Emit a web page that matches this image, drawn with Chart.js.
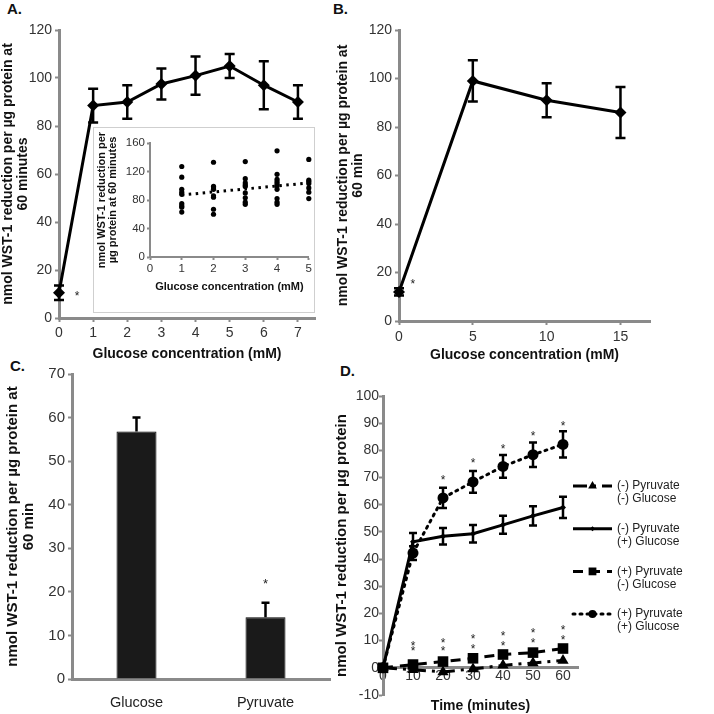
<!DOCTYPE html>
<html>
<head>
<meta charset="utf-8">
<title>WST-1 reduction</title>
<script src="https://cdn.jsdelivr.net/npm/chart.js@4.4.0/dist/chart.umd.min.js"></script>
<style>
  body { margin: 0; background: #fff; }
  #page { position: relative; width: 714px; height: 714px; overflow: hidden; font-family: "Liberation Sans", Arial, sans-serif; }
  canvas { position: absolute; }
  .tag { position: absolute; font-weight: bold; font-size: 15px; line-height: 15px; color: #111; }
  #insetBox { position: absolute; left: 93px; top: 127px; width: 222px; height: 186px; border: 1px solid #cfcfcf; background: #fff; box-sizing: border-box; }
  #insetBox canvas { left: 0; top: 0; }
</style>
</head>
<body>
<div id="page">
  <div class="tag" style="left:7px;top:1px">A.</div>
  <div class="tag" style="left:333px;top:1px">B.</div>
  <div class="tag" style="left:10px;top:358px">C.</div>
  <div class="tag" style="left:340px;top:363px">D.</div>
  <canvas id="chartA" width="330" height="362" style="left:0;top:0"></canvas>
  <div id="insetBox"><canvas id="chartInset" width="220" height="184"></canvas></div>
  <canvas id="chartB" width="340" height="362" style="left:333px;top:0"></canvas>
  <canvas id="chartC" width="335" height="354" style="left:0;top:360px"></canvas>
  <canvas id="chartD" width="381" height="354" style="left:333px;top:360px"></canvas>
</div>
<script>
// Panel A: glucose dose response
const glucoseA = [0, 1, 2, 3, 4, 5, 6, 7];
const wstA = [10.5, 88.5, 90, 97.5, 101, 105, 97, 90];
const errA = [3, 7, 7, 6.5, 8, 5, 10, 7];
const tickXA = [0, 1, 2, 3, 4, 5, 6, 7];
const starAX = [0.53];
const starAY = [10.4];

// Panel A inset: individual measurements
const insetConc = [1, 2, 3, 4, 5];
const insetAt1 = [127, 112, 95, 91, 88, 75, 72, 70, 63];
const insetAt2 = [133, 99, 97, 95, 86, 84, 67, 60];
const insetAt3 = [134, 110, 104, 101, 99, 90, 83, 77, 74];
const insetAt4 = [149, 116, 109, 106, 103, 100, 95, 82, 77, 74];
const insetAt5 = [137, 108, 106, 103, 97, 91, 82];
const trendX = [1, 5];
const trendY = [87, 104];

// Panel B
const glucoseB = [0, 5, 10, 15];
const wstB = [12, 99, 91, 86];
const errB = [1.5, 8.5, 7, 10.5];
const tickXB = [0, 5, 10, 15];
const starBX = [0.94];
const starBY = [16.4];

// Panel C
const substrateC = ['Glucose', 'Pyruvate'];
const wstC = [56.8, 14.2];
const errC = [3.2, 3.3];
const starCX = [1];
const starCY = [22.7];

// Panel D: time course
const timeD = [0, 10, 20, 30, 40, 50, 60];
const noPyrNoGlc = [0, -0.7, -1.5, -0.4, 0.9, 1.8, 2.7];
const noPyrGlc = [0, 46.4, 48.4, 49.3, 52.6, 55.9, 59];
const noPyrGlcErr = [0, 3.2, 3, 3.2, 3.3, 3.5, 3.9];
const pyrNoGlc = [0, 1.2, 2.3, 3.5, 4.9, 5.6, 7.1];
const pyrGlc = [0, 42.2, 62.5, 68.4, 74.1, 78.4, 82.2];
const pyrGlcErr = [0, 2.5, 3.7, 4, 4.2, 4.5, 4.8];
const pyruvateTags = ['(-) Pyruvate', '(-) Pyruvate', '(+) Pyruvate', '(+) Pyruvate'];
const glucoseTags = ['(-) Glucose', '(+) Glucose', '(-) Glucose', '(+) Glucose'];
const starTopX = [20, 30, 40, 50, 60];
const starTopY = [70, 76.5, 81.7, 86.3, 90];
const starLowX = [10, 20, 30, 40, 50, 60, 10, 20, 30, 40, 50, 60];
const starLowY = [9, 10.3, 11.5, 12.7, 13.7, 15, 7.3, 7.4, 8, 9, 10.3, 11.3];

Chart.defaults.font.family = '"Liberation Sans", Arial, sans-serif';
Chart.defaults.color = '#333';
Chart.defaults.animation = false;
Chart.defaults.plugins.legend.display = false;
Chart.defaults.plugins.tooltip.enabled = false;

const AXIS = '#8a8a8a';

function frame(tickLen, width) {
  return {
    border: { color: AXIS, width: width },
    grid: { drawOnChartArea: false, drawTicks: tickLen > 0, tickLength: tickLen, tickColor: AXIS, tickWidth: 2 },
  };
}

function bold(size) {
  return { size: size, weight: 'bold', lineHeight: 1.05 };
}

function xy(xs, ys) {
  return xs.map((x, i) => ({ x: x, y: ys[i] }));
}

// draws +/- error bars for datasets that carry an `errors` array
const errorBars = {
  id: 'errorBars',
  afterDatasetsDraw(chart) {
    const ctx = chart.ctx;
    chart.data.datasets.forEach((ds, i) => {
      if (!ds.errors) return;
      const meta = chart.getDatasetMeta(i);
      const yScale = chart.scales[meta.yAxisID];
      const cap = ds.capHalf || 4;
      ctx.save();
      ctx.strokeStyle = '#000';
      ctx.lineWidth = ds.errorWidth || 2.5;
      meta.data.forEach((el, j) => {
        const e = ds.errors[j];
        if (!e) return;
        const raw = ds.data[j];
        const v = typeof raw === 'object' ? raw.y : raw;
        const top = yScale.getPixelForValue(v + e);
        const bot = yScale.getPixelForValue(ds.upperOnly ? v : v - e);
        ctx.beginPath();
        ctx.moveTo(el.x, top);
        ctx.lineTo(el.x, bot);
        ctx.moveTo(el.x - cap, top);
        ctx.lineTo(el.x + cap, top);
        if (!ds.upperOnly) {
          ctx.moveTo(el.x - cap, bot);
          ctx.lineTo(el.x + cap, bot);
        }
        ctx.stroke();
      });
      ctx.restore();
    });
  }
};

// significance asterisks placed in data coordinates
const stars = {
  id: 'stars',
  afterDatasetsDraw(chart, args, opts) {
    if (!opts.x) return;
    const ctx = chart.ctx;
    const size = opts.size || 12;
    ctx.save();
    ctx.fillStyle = '#222';
    ctx.font = size + 'px "Liberation Sans", Arial, sans-serif';
    ctx.textAlign = 'center';
    ctx.textBaseline = 'alphabetic';
    opts.x.forEach((xv, k) => {
      const px = chart.scales.x.getPixelForValue(xv);
      const py = chart.scales.y.getPixelForValue(opts.y[k]);
      ctx.fillText('*', px, py + size * 0.575);
    });
    ctx.restore();
  }
};

// legend on the right of panel D, two text lines per series
const sideLegend = {
  id: 'sideLegend',
  afterDraw(chart, args, o) {
    if (!o.display) return;
    const ctx = chart.ctx;
    const left = chart.chartArea.right + o.gapLeft;
    chart.data.datasets.forEach((ds, i) => {
      const y = o.top + i * o.spacing;
      ctx.save();
      ctx.strokeStyle = '#000';
      ctx.lineWidth = ds.borderWidth;
      ctx.lineCap = ds.borderCapStyle || 'butt';
      ctx.setLineDash(ds.borderDash || []);
      ctx.beginPath();
      ctx.moveTo(left, y);
      ctx.lineTo(left + o.sample, y);
      ctx.stroke();
      ctx.setLineDash([]);
      ctx.fillStyle = '#000';
      Chart.helpers.drawPoint(ctx, { pointStyle: ds.pointStyle, radius: ds.legendRadius, borderWidth: 0, rotation: 0 }, left + o.sample / 2, y);
      ctx.font = o.size + 'px "Liberation Sans", Arial, sans-serif';
      ctx.fillStyle = '#222';
      ctx.textBaseline = 'middle';
      ds.lines.forEach((t, k) => ctx.fillText(t, left + o.sample + o.textGap, y + k * o.lineGap));
      ctx.restore();
    });
  }
};

// ---- Panel A ----
new Chart(document.getElementById('chartA'), {
  type: 'line',
  data: {
    datasets: [{
      data: xy(glucoseA, wstA),
      errors: errA,
      capHalf: 5,
      borderColor: '#000', backgroundColor: '#000', borderWidth: 3,
      pointStyle: 'rectRot', pointRadius: 6, pointBorderWidth: 0,
      clip: false
    }]
  },
  options: {
    responsive: false,
    layout: { padding: { top: 30, right: 15, left: 0, bottom: 0 } },
    scales: {
      x: {
        type: 'linear', min: 0, max: 7.5, ...frame(4, 3),
        afterBuildTicks: s => { s.ticks = tickXA.map(v => ({ value: v })); },
        ticks: { font: { size: 14 }, padding: 3 },
        title: { display: true, text: 'Glucose concentration (mM)', color: '#111', font: bold(14), padding: { top: 0, bottom: 1 } },
        afterFit: s => { s.height = 44; }
      },
      y: {
        min: 0, max: 120, ...frame(4, 3),
        ticks: { stepSize: 20, font: { size: 14 }, padding: 3 },
        title: { display: true, text: ['nmol WST-1 reduction per µg protein at', '60 minutes'], color: '#111', font: bold(14), padding: { top: 1, bottom: 0 } },
        afterFit: s => { s.width = 59; }
      }
    },
    plugins: { stars: { x: starAX, y: starAY, size: 12 } }
  },
  plugins: [errorBars, stars]
});

// ---- Panel A inset ----
const insetGroups = [insetAt1, insetAt2, insetAt3, insetAt4, insetAt5];
const insetPoints = insetConc.flatMap((c, i) => insetGroups[i].map(v => ({ x: c, y: v })));

new Chart(document.getElementById('chartInset'), {
  type: 'scatter',
  data: {
    datasets: [
      { data: insetPoints, pointRadius: 2.6, backgroundColor: '#000', borderWidth: 0, clip: false },
      { data: xy(trendX, trendY), showLine: true, pointRadius: 0, borderColor: '#000', borderWidth: 3, borderDash: [2.5, 4.5] }
    ]
  },
  options: {
    responsive: false,
    layout: { padding: { top: 15, right: 2, left: 0, bottom: 0 } },
    scales: {
      x: {
        type: 'linear', min: 0, max: 5, ...frame(3, 2),
        ticks: { stepSize: 1, font: { size: 11.5 }, padding: 2 },
        title: { display: true, text: 'Glucose concentration (mM)', color: '#111', font: bold(11), padding: { top: 0, bottom: 19 } },
        afterFit: s => { s.height = 55; }
      },
      y: {
        min: 0, max: 160, ...frame(3, 2),
        ticks: { stepSize: 20, font: { size: 11.5 }, padding: 2 },
        title: { display: true, text: ['nmol WST-1 reduction per', 'µg protein at 60 minutes'], color: '#111', font: bold(11), padding: { top: 2, bottom: 0 } },
        afterFit: s => { s.width = 56; }
      }
    }
  }
});

// ---- Panel B ----
new Chart(document.getElementById('chartB'), {
  type: 'line',
  data: {
    datasets: [{
      data: xy(glucoseB, wstB),
      errors: errB,
      capHalf: 5,
      borderColor: '#000', backgroundColor: '#000', borderWidth: 3,
      pointStyle: 'rectRot', pointRadius: 6, pointBorderWidth: 0,
      clip: false
    }]
  },
  options: {
    responsive: false,
    layout: { padding: { top: 30, right: 23, left: 0, bottom: 0 } },
    scales: {
      x: {
        type: 'linear', min: 0, max: 17, ...frame(4, 3),
        afterBuildTicks: s => { s.ticks = tickXB.map(v => ({ value: v })); },
        ticks: { font: { size: 14 }, padding: 4 },
        title: { display: true, text: 'Glucose concentration (mM)', color: '#111', font: bold(14), padding: { top: 0, bottom: 0 } },
        afterFit: s => { s.height = 41; }
      },
      y: {
        min: 0, max: 120, ...frame(4, 3),
        ticks: { stepSize: 20, font: { size: 14 }, padding: 3 },
        title: { display: true, text: ['nmol WST-1 reduction per µg protein at', '60 min'], color: '#111', font: bold(14), padding: { top: 3, bottom: 0 } },
        afterFit: s => { s.width = 66; }
      }
    },
    plugins: { stars: { x: starBX, y: starBY, size: 12 } }
  },
  plugins: [errorBars, stars]
});

// ---- Panel C ----
new Chart(document.getElementById('chartC'), {
  type: 'bar',
  data: {
    labels: substrateC,
    datasets: [{
      data: wstC,
      errors: errC,
      upperOnly: true,
      capHalf: 4,
      backgroundColor: '#1a1a1a', borderColor: '#000', borderWidth: 1,
      categoryPercentage: 1, barPercentage: 0.31
    }]
  },
  options: {
    responsive: false,
    layout: { padding: { top: 14, right: 5, left: 0, bottom: 0 } },
    scales: {
      x: {
        ...frame(0, 3),
        grid: { display: false },
        ticks: { font: { size: 14.5 }, padding: 7, color: '#222' },
        afterFit: s => { s.height = 35; }
      },
      y: {
        min: 0, max: 70, ...frame(4, 3),
        ticks: { stepSize: 10, font: { size: 15 }, padding: 3 },
        title: { display: true, text: ['nmol WST-1 reduction per µg protein at', '60 min'], color: '#111', font: bold(15), padding: { top: 5, bottom: 0 } },
        afterFit: s => { s.width = 72; }
      }
    },
    plugins: { stars: { x: starCX, y: starCY, size: 13 } }
  },
  plugins: [errorBars, stars]
});

// ---- Panel D ----
new Chart(document.getElementById('chartD'), {
  type: 'line',
  data: {
    datasets: [
      {
        label: pyruvateTags[0] + ' ' + glucoseTags[0], lines: [pyruvateTags[0], glucoseTags[0]],
        data: xy(timeD, noPyrNoGlc),
        borderColor: '#000', backgroundColor: '#000', borderWidth: 3, borderDash: [14, 6, 3, 6],
        pointStyle: 'triangle', pointRadius: 6.5, pointBorderWidth: 0, legendRadius: 5, clip: false, order: 3
      },
      {
        label: pyruvateTags[1] + ' ' + glucoseTags[1], lines: [pyruvateTags[1], glucoseTags[1]],
        data: xy(timeD, noPyrGlc), errors: noPyrGlcErr, capHalf: 4,
        borderColor: '#000', backgroundColor: '#000', borderWidth: 3,
        pointStyle: 'rectRot', pointRadius: 3, pointBorderWidth: 0, legendRadius: 2.5, clip: false, order: 2
      },
      {
        label: pyruvateTags[2] + ' ' + glucoseTags[2], lines: [pyruvateTags[2], glucoseTags[2]],
        data: xy(timeD, pyrNoGlc),
        borderColor: '#000', backgroundColor: '#000', borderWidth: 3, borderDash: [10, 7],
        pointStyle: 'rect', pointRadius: 7.5, pointBorderWidth: 0, legendRadius: 5.5, clip: false, order: 1
      },
      {
        label: pyruvateTags[3] + ' ' + glucoseTags[3], lines: [pyruvateTags[3], glucoseTags[3]],
        data: xy(timeD, pyrGlc), errors: pyrGlcErr, capHalf: 4,
        borderColor: '#000', backgroundColor: '#000', borderWidth: 3, borderDash: [2, 5], borderCapStyle: 'round',
        pointStyle: 'circle', pointRadius: 5.5, pointBorderWidth: 0, legendRadius: 4, clip: false, order: 0
      }
    ]
  },
  options: {
    responsive: false,
    layout: { padding: { top: 36, right: 136, left: 0, bottom: 19 } },
    scales: {
      x: {
        type: 'linear', min: 0, max: 65, position: { y: 0 }, ...frame(0, 3),
        afterBuildTicks: s => { s.ticks = timeD.map(v => ({ value: v })); },
        ticks: { font: { size: 14 }, padding: 0 },
        title: { display: true, text: 'Time (minutes)', color: '#111', font: bold(14), padding: { top: 0, bottom: 0 } },
        afterFit: s => { s.height = 46; }
      },
      y: {
        min: -10, max: 100, ...frame(4, 3),
        ticks: { stepSize: 10, font: { size: 14 }, padding: 0 },
        title: { display: true, text: 'nmol WST-1 reduction per µg protein', color: '#111', font: bold(15), padding: { top: 1, bottom: 0 } },
        afterFit: s => { s.width = 50; }
      }
    },
    plugins: {
      stars: { x: starTopX.concat(starLowX), y: starTopY.concat(starLowY), size: 12 },
      sideLegend: { display: true, top: 126, spacing: 42.7, gapLeft: -5, sample: 39, textGap: 5, lineGap: 13, size: 12 }
    }
  },
  plugins: [errorBars, stars, sideLegend]
});
</script>
</body>
</html>
